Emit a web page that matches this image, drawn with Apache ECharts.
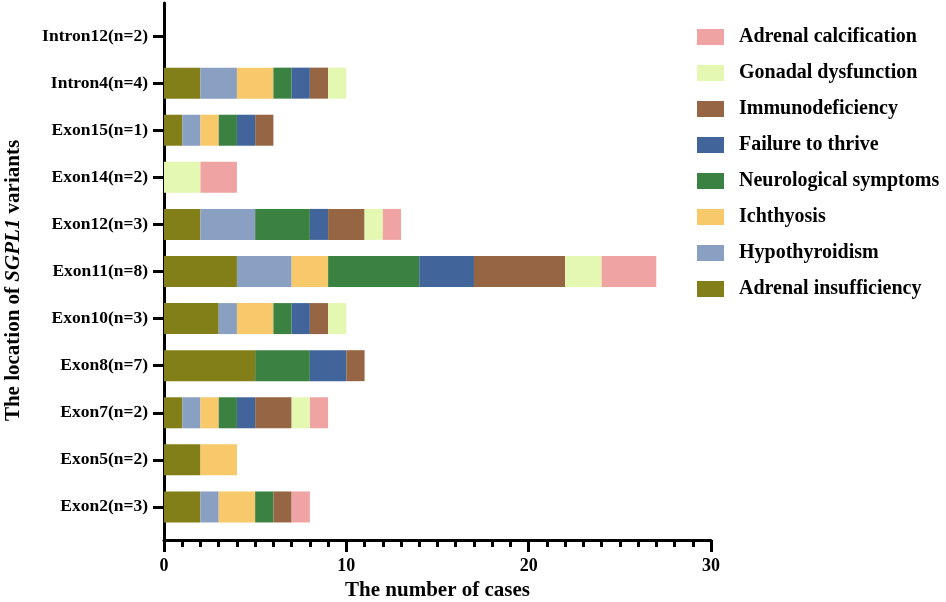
<html>
  <head>
    <meta http-equiv="Content-Type" content="text/html; charset=utf-8" />
    <script src="https://cdn.jsdelivr.net/npm/echarts@6/dist/echarts.min.js"></script>
  </head>
  <body style="margin:0">
    <div id="main" style="width: 946px;height:602px;"></div>
    <script type="text/javascript">
// categories, bottom to top
var locations = ['Exon2(n=3)', 'Exon5(n=2)', 'Exon7(n=2)', 'Exon8(n=7)', 'Exon10(n=3)', 'Exon11(n=8)',
                 'Exon12(n=3)', 'Exon14(n=2)', 'Exon15(n=1)', 'Intron4(n=4)', 'Intron12(n=2)'];

var adrenalInsufficiency = [2, 2, 1, 5, 3, 4, 2, 0, 1, 2, 0];
var hypothyroidism       = [1, 0, 1, 0, 1, 3, 3, 0, 1, 2, 0];
var ichthyosis           = [2, 2, 1, 0, 2, 2, 0, 0, 1, 2, 0];
var neurological         = [1, 0, 1, 3, 1, 5, 3, 0, 1, 1, 0];
var failureToThrive      = [0, 0, 1, 2, 1, 3, 1, 0, 1, 1, 0];
var immunodeficiency     = [1, 0, 2, 1, 1, 5, 2, 0, 1, 1, 0];
var gonadal              = [0, 0, 1, 0, 1, 2, 1, 2, 0, 1, 0];
var calcification        = [1, 0, 1, 0, 0, 3, 1, 2, 0, 0, 0];

var xTicks = [0, 10, 20, 30];

var font = 'Liberation Serif';

var seriesDefs = [
  ['Adrenal insufficiency', adrenalInsufficiency, '#837f18'],
  ['Hypothyroidism', hypothyroidism, '#8aa0c2'],
  ['Ichthyosis', ichthyosis, '#f7c96b'],
  ['Neurological symptoms', neurological, '#3b8142'],
  ['Failure to thrive', failureToThrive, '#41659b'],
  ['Immunodeficiency', immunodeficiency, '#966544'],
  ['Gonadal dysfunction', gonadal, '#e4f8b1'],
  ['Adrenal calcification', calcification, '#efa3a3']
];

var myChart = echarts.init(document.getElementById('main'));

var series = seriesDefs.map(function (d) {
  return {
    name: d[0],
    type: 'bar',
    stack: 'all',
    xAxisIndex: 0,
    yAxisIndex: 0,
    barWidth: 31,
    itemStyle: {color: d[2]},
    data: d[1]
  };
});

var option = {
  animation: false,
  textStyle: {fontFamily: font},
  legend: {
    orient: 'vertical',
    left: 692,
    top: 22,
    itemWidth: 27,
    itemHeight: 16,
    itemGap: 16,
    icon: 'rect',
    data: seriesDefs.map(function (d) { return d[0]; }).reverse(),
    textStyle: {fontFamily: font, fontSize: 20, fontWeight: 'bold', color: '#000',
                padding: [0, 0, 0, 10]}
  },
  grid: [
    {left: 164, right: 235, top: 12.5, bottom: 71.5, outerBoundsMode: 'none'},
    {left: 164, right: 235, top: 3, bottom: 62, outerBoundsMode: 'none'}
  ],
  xAxis: [
    {gridIndex: 0, type: 'value', min: 0, max: 30, show: false},
    {
      gridIndex: 1, type: 'value', min: xTicks[0], max: xTicks[xTicks.length - 1], interval: 10,
      name: 'The number of cases', nameLocation: 'middle', nameGap: 39,
      nameTextStyle: {fontFamily: font, fontSize: 21, fontWeight: 'bold', color: '#000'},
      axisLine: {onZero: false, lineStyle: {color: '#000', width: 3}},
      axisTick: {show: true, length: 12, lineStyle: {color: '#000', width: 3}},
      minorTick: {show: true, splitNumber: 10, length: 7, lineStyle: {color: '#000', width: 3}},
      axisLabel: {margin: 17, fontFamily: font, fontSize: 18, fontWeight: 'bold', color: '#000'},
      splitLine: {show: false}
    }
  ],
  yAxis: [
    {
      gridIndex: 0, type: 'category', data: locations,
      axisLine: {show: false},
      axisTick: {show: true, alignWithLabel: true, length: 11, lineStyle: {color: '#000', width: 3}},
      axisLabel: {margin: 16, fontFamily: font, fontSize: 17.5, fontWeight: 'bold', color: '#000'}
    },
    {
      gridIndex: 1, type: 'value', min: 0, max: 1,
      name: 'The location of {i|SGPL1} variants', nameLocation: 'middle', nameGap: 140,
      nameTextStyle: {fontFamily: font, fontSize: 21, fontWeight: 'bold', color: '#000', padding: [0, 18, 0, 0],
                      rich: {i: {fontFamily: font, fontSize: 21, fontWeight: 'bold', fontStyle: 'italic', color: '#000'}}},
      axisLine: {show: true, onZero: false, lineStyle: {color: '#000', width: 3}},
      axisTick: {show: false},
      axisLabel: {show: false},
      splitLine: {show: false}
    }
  ],
  series: series
};

myChart.setOption(option);
    </script>
  </body>
</html>
